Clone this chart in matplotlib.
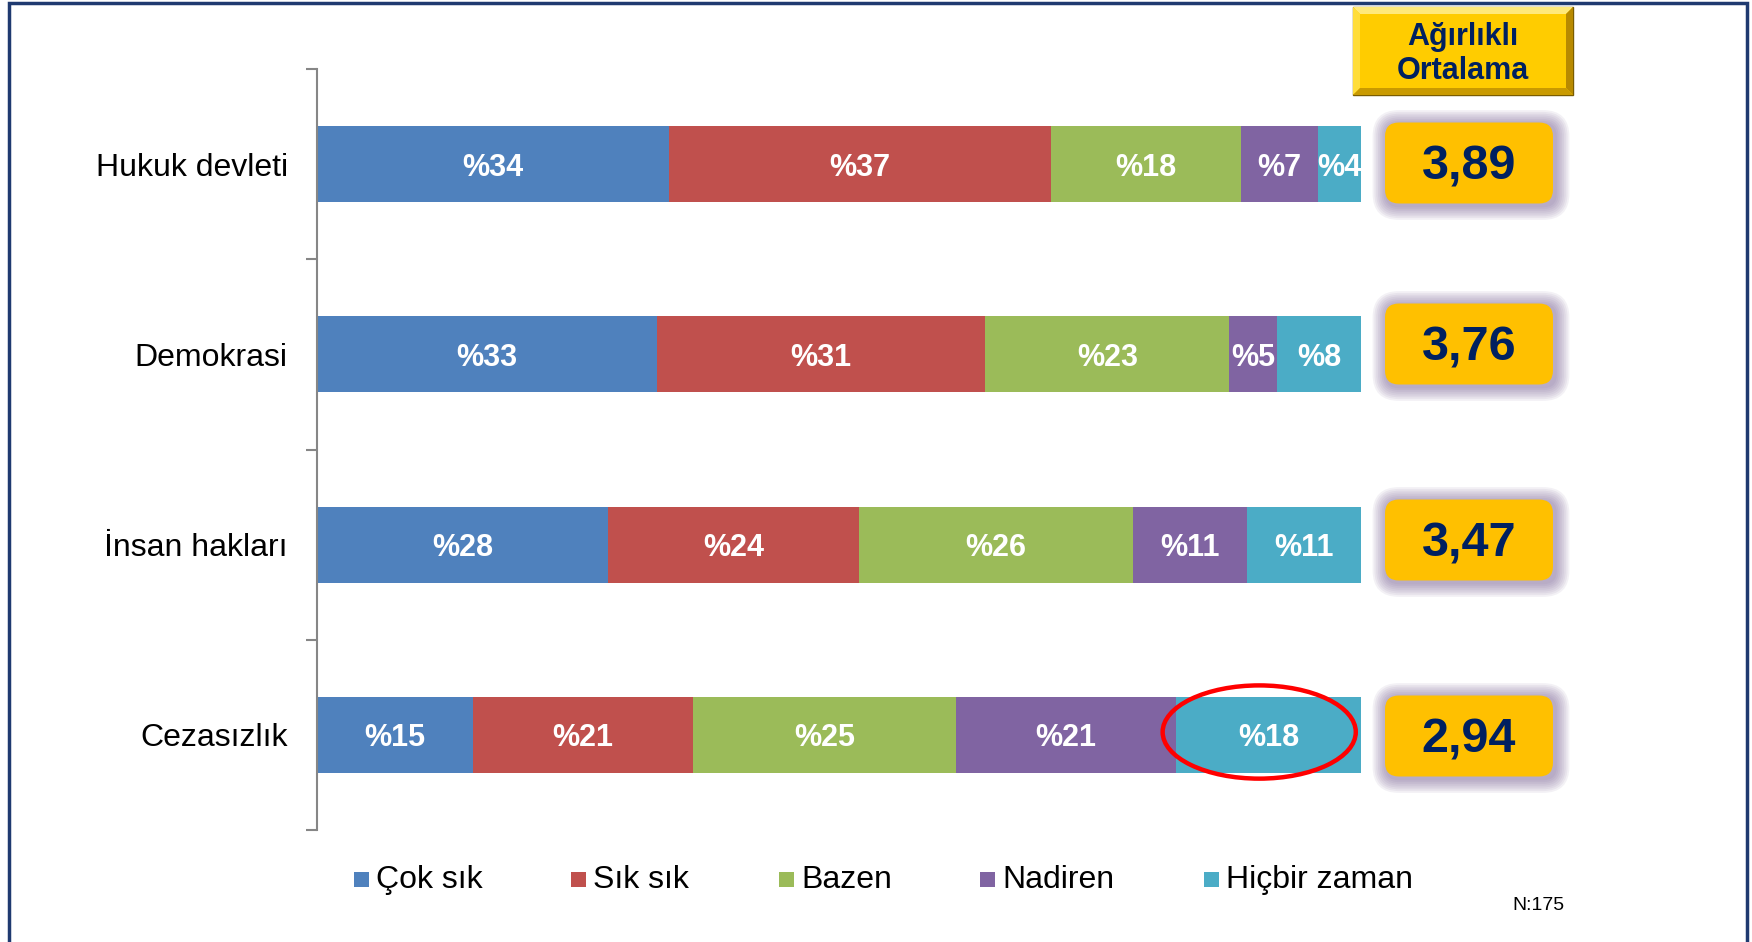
import matplotlib
matplotlib.use("Agg")
from matplotlib import pyplot as plt
from matplotlib.patches import Rectangle, FancyBboxPatch, Ellipse, Polygon
from matplotlib.transforms import IdentityTransform
import numpy as np

CATEGORIES = ["Hukuk devleti", "Demokrasi", "İnsan hakları", "Cezasızlık"]
SERIES = ["Çok sık", "Sık sık", "Bazen", "Nadiren", "Hiçbir zaman"]
# shares; the labels show them rounded
VALUES = np.array([
    [33.7, 36.6, 18.2, 7.4, 4.1],
    [32.6, 31.4, 23.4, 4.6, 8.0],
    [27.9, 24.0, 26.3, 10.9, 10.9],
    [14.9, 21.1, 25.2, 21.1, 17.7],
])
AVERAGES = ["3,89", "3,76", "3,47", "2,94"]
N_TEXT = "N:175"
HEADER = "Ağırlıklı\nOrtalama"

COLORS = ["#4F81BD", "#C0504D", "#9BBB59", "#8064A2", "#4BACC6"]
NAVY = "#002060"
FONT = ["Liberation Sans", "DejaVu Sans"]
plt.rcParams["font.family"] = FONT

W, H = 1752, 942
fig = plt.figure(figsize=(W / 100, H / 100), dpi=100)
PIX = IdentityTransform()


def fx(x):
    return x / W


def fy(y):
    return 1 - y / H


# axes placed by pixel box: left 317, right 1361, top 69, bottom 830
ax = fig.add_axes([fx(317), fy(830), (1361 - 317) / W, (830 - 69) / H])
ypos = np.arange(len(CATEGORIES))
left = np.zeros(len(CATEGORIES))
for j, name in enumerate(SERIES):
    vals = VALUES[:, j]
    ax.barh(ypos, vals, left=left, height=0.4, color=COLORS[j], label=name)
    for i, v in enumerate(vals):
        ax.text(left[i] + v / 2, ypos[i] + 0.018, f"%{int(round(v))}", ha="center", va="center",
                color="white", fontsize=22, fontweight="bold")
    left += vals

ax.set_xlim(0, 100)
ax.set_ylim(len(CATEGORIES) - 0.5, -0.5)
ax.set_yticks(ypos)
ax.set_yticklabels(CATEGORIES, fontsize=23)
ax.tick_params(axis="y", which="major", length=0, pad=21)
ax.set_yticks(np.arange(len(CATEGORIES) + 1) - 0.5, minor=True)
ax.tick_params(axis="y", which="minor", length=8, width=1.5, color="#868686")
ax.set_xticks([])
for s in ["top", "right", "bottom"]:
    ax.spines[s].set_visible(False)
ax.spines["left"].set_color("#868686")
ax.spines["left"].set_linewidth(1.5)

# red highlight around last segment of last row
last = len(CATEGORIES) - 1
cx = VALUES[last, :-1].sum() + VALUES[last, -1] / 2
ax.add_patch(Ellipse((cx - 0.9, ypos[last] - 0.015), 18.5, 0.49, fill=False,
                     edgecolor="#FF0000", linewidth=3.2, clip_on=False, zorder=5))

# frame
fig.add_artist(Rectangle((9, -20), 1738, H - 3 + 20, transform=PIX, fill=False,
                         edgecolor="#1F3A70", linewidth=2.5))

# header bevel box
x0, x1, y0, y1 = 1353, 1573, 7, 95
b = 7
def pt(x, y):
    return (x, H - y)
fig.add_artist(Rectangle(pt(x0, y1), x1 - x0, y1 - y0, transform=PIX,
                         facecolor="#FFCC00", edgecolor="#7A5C00", linewidth=1))
bevels = [
    ([pt(x0, y0), pt(x1, y0), pt(x1 - b, y0 + b), pt(x0 + b, y0 + b)], "#FFE97A"),
    ([pt(x0, y0), pt(x0 + b, y0 + b), pt(x0 + b, y1 - b), pt(x0, y1)], "#FFDD3A"),
    ([pt(x1, y0), pt(x1, y1), pt(x1 - b, y1 - b), pt(x1 - b, y0 + b)], "#B88A00"),
    ([pt(x0, y1), pt(x0 + b, y1 - b), pt(x1 - b, y1 - b), pt(x1, y1)], "#C99A00"),
]
for poly, c in bevels:
    fig.add_artist(Polygon(poly, closed=True, transform=PIX, facecolor=c, edgecolor="none"))
fig.text(fx((x0 + x1) / 2), fy((y0 + y1) / 2 + 3), HEADER, ha="center", va="center",
         fontsize=22, fontweight="bold", color=NAVY, linespacing=1.2)

# weighted average boxes with purple glow
box_cy = [163, 344, 540, 736]
bw, bh = 168, 81
bx = 1385
for cy, txt in zip(box_cy, AVERAGES):
    by = H - cy - bh / 2
    for k in range(8, 0, -1):
        fig.add_artist(FancyBboxPatch((bx + 2, by - 2), bw, bh, transform=PIX,
                                      boxstyle=f"round,pad={k * 1.8},rounding_size={12 + k * 1.8}",
                                      facecolor="#7E6A9A", edgecolor="none", alpha=0.09))
    fig.add_artist(FancyBboxPatch((bx, by), bw, bh, transform=PIX,
                                  boxstyle="round,pad=0,rounding_size=14",
                                  facecolor="#FFC000", edgecolor="none"))
    fig.text(fx(bx + bw / 2), fy(cy + 4), txt, ha="center", va="center",
             fontsize=35, fontweight="bold", color=NAVY)

# legend
leg_x = [354, 571, 779, 980, 1204]
leg_y = 879
for lx, name, c in zip(leg_x, SERIES, COLORS):
    fig.add_artist(Rectangle((lx, H - leg_y - 8), 15, 15, transform=PIX,
                             facecolor=c, edgecolor="none"))
    fig.text(fx(lx + 22), fy(leg_y + 1), name, ha="left", va="center", fontsize=23)

fig.text(fx(1538), fy(905), N_TEXT, ha="center", va="center", fontsize=14)

fig.savefig("out.png", dpi=100)
